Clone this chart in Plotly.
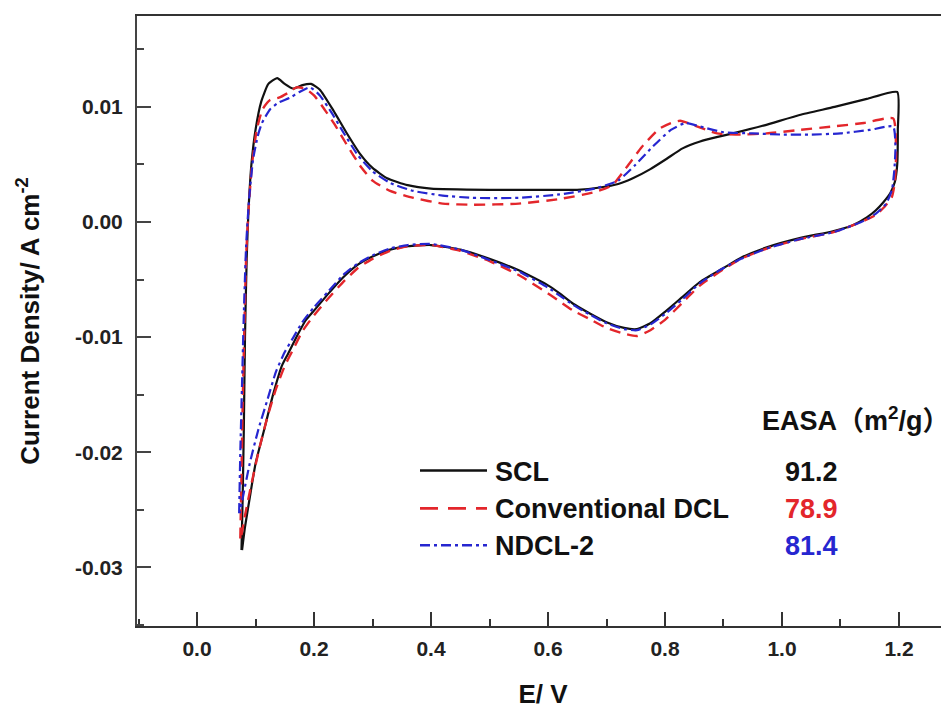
import plotly.graph_objects as go

# ---------------- data ----------------
series_names = ["SCL", "Conventional DCL", "NDCL-2"]
easa_values = ["91.2", "78.9", "81.4"]

scl_E = [0.076, 0.078, 0.080, 0.082, 0.085, 0.088, 0.093, 0.100, 0.110, 0.122, 0.137, 0.150, 0.164, 0.180,
         0.195, 0.210, 0.233, 0.255, 0.279, 0.300, 0.325, 0.36, 0.40, 0.50, 0.60, 0.65, 0.689, 0.72, 0.745,
         0.775, 0.803, 0.83, 0.86, 0.89, 0.916, 0.97, 1.03, 1.09, 1.145, 1.197,
         1.198, 1.197, 1.193, 1.185, 1.173, 1.16, 1.145, 1.12, 1.087, 1.03, 0.974, 0.93, 0.90, 0.86, 0.83,
         0.80, 0.775, 0.752, 0.73, 0.70, 0.67, 0.643, 0.62, 0.60, 0.55, 0.50, 0.45, 0.40, 0.36, 0.33, 0.30,
         0.275, 0.25, 0.225, 0.20, 0.185, 0.17, 0.155, 0.145, 0.13, 0.115, 0.10, 0.09, 0.082, 0.077]
scl_j = [-0.0285, -0.024, -0.018, -0.010, -0.003, 0.001, 0.005, 0.008, 0.0105, 0.0120, 0.0125, 0.0120, 0.0116,
         0.0119, 0.0120, 0.0115, 0.0097, 0.0078, 0.0059, 0.0047, 0.0038, 0.0032, 0.0029, 0.0028, 0.0028, 0.0028,
         0.0030, 0.0033, 0.0038, 0.0046, 0.0055, 0.0064, 0.0070, 0.0074, 0.0077, 0.0084, 0.0093, 0.0100, 0.0107,
         0.0113,
         0.0080, 0.0050, 0.0035, 0.0025, 0.0017, 0.0010, 0.0004, -0.0003, -0.0008, -0.0014, -0.0022, -0.0031,
         -0.0040, -0.0052, -0.0065, -0.0078, -0.0088, -0.0093, -0.0092, -0.0087, -0.0079, -0.0071, -0.0062,
         -0.0055, -0.0042, -0.0032, -0.0024, -0.0020, -0.0021, -0.0024, -0.0030, -0.0037, -0.0048, -0.0062,
         -0.0077, -0.0086, -0.0100, -0.0115, -0.0125, -0.0150, -0.0180, -0.0210, -0.0240, -0.0265, -0.0285]

dcl_E = [0.074, 0.076, 0.078, 0.081, 0.084, 0.088, 0.094, 0.102, 0.112, 0.125, 0.140, 0.155, 0.170, 0.185,
         0.20, 0.215, 0.235, 0.255, 0.28, 0.30, 0.33, 0.37, 0.42, 0.47, 0.55, 0.62, 0.68, 0.71, 0.735, 0.76,
         0.79, 0.81, 0.826, 0.85, 0.889, 0.93, 0.974, 1.03, 1.087, 1.14, 1.19,
         1.195, 1.193, 1.188, 1.175, 1.16, 1.14, 1.11, 1.087, 1.03, 0.974, 0.93, 0.90, 0.86, 0.83, 0.80, 0.775,
         0.752, 0.73, 0.70, 0.67, 0.643, 0.62, 0.60, 0.55, 0.50, 0.45, 0.40, 0.36, 0.33, 0.30, 0.275, 0.25,
         0.225, 0.20, 0.18, 0.165, 0.15, 0.135, 0.12, 0.105, 0.092, 0.082, 0.075]
dcl_j = [-0.0275, -0.022, -0.016, -0.009, -0.003, 0.001, 0.005, 0.0080, 0.0098, 0.0106, 0.0108, 0.0112, 0.0117,
         0.0116, 0.0110, 0.0100, 0.0085, 0.0068, 0.0048, 0.0036, 0.0027, 0.0021, 0.0016, 0.0015, 0.0016, 0.0020,
         0.0026, 0.0032, 0.0048, 0.0065, 0.0081, 0.0086, 0.0088, 0.0084, 0.0077, 0.0076, 0.0077, 0.0080, 0.0083,
         0.0086, 0.0090,
         0.0060, 0.0035, 0.0022, 0.0013, 0.0006, 0.0001, -0.0005, -0.0009, -0.0015, -0.0023, -0.0032, -0.0041,
         -0.0055, -0.0070, -0.0085, -0.0094, -0.0099, -0.0097, -0.0092, -0.0084, -0.0077, -0.0069, -0.0062,
         -0.0046, -0.0034, -0.0025, -0.0020, -0.0021, -0.0025, -0.0032, -0.0040, -0.0052, -0.0066, -0.0081,
         -0.0095, -0.0110, -0.0125, -0.0145, -0.0170, -0.0200, -0.0230, -0.0255, -0.0275]

ndcl_E = [0.072, 0.074, 0.077, 0.080, 0.084, 0.089, 0.096, 0.104, 0.111, 0.125, 0.140, 0.159, 0.175, 0.193,
          0.21, 0.23, 0.25, 0.275, 0.30, 0.33, 0.37, 0.42, 0.47, 0.55, 0.62, 0.68, 0.72, 0.75, 0.78, 0.81, 0.835,
          0.86, 0.90, 0.95, 1.0, 1.05, 1.10, 1.15, 1.19,
          1.194, 1.192, 1.188, 1.178, 1.16, 1.14, 1.11, 1.087, 1.03, 0.974, 0.93, 0.90, 0.86, 0.83, 0.80, 0.775,
          0.752, 0.73, 0.70, 0.67, 0.643, 0.62, 0.60, 0.55, 0.50, 0.45, 0.40, 0.36, 0.33, 0.30, 0.275, 0.25,
          0.225, 0.20, 0.18, 0.165, 0.15, 0.135, 0.12, 0.105, 0.09, 0.08, 0.073]
ndcl_j = [-0.0253, -0.020, -0.014, -0.008, -0.002, 0.002, 0.0055, 0.0075, 0.0086, 0.0098, 0.0104, 0.0108, 0.0113,
          0.0117, 0.0110, 0.0095, 0.0078, 0.0058, 0.0044, 0.0034, 0.0027, 0.0023, 0.0021, 0.0021, 0.0024, 0.0029,
          0.0036, 0.0050, 0.0066, 0.0080, 0.0086, 0.0083, 0.0078, 0.0077, 0.0076, 0.0076, 0.0077, 0.0080, 0.0083,
          0.0065, 0.0045, 0.0028, 0.0016, 0.0007, 0.0001, -0.0005, -0.0009, -0.0015, -0.0023, -0.0032, -0.0040,
          -0.0053, -0.0067, -0.0080, -0.0089, -0.0094, -0.0093, -0.0088, -0.0080, -0.0072, -0.0064, -0.0057,
          -0.0043, -0.0033, -0.0024, -0.0019, -0.0020, -0.0023, -0.0029, -0.0036, -0.0046, -0.0060, -0.0074,
          -0.0087, -0.0100, -0.0113, -0.0130, -0.0155, -0.0180, -0.0210, -0.0235, -0.0253]

x_tickvals = [0.0, 0.2, 0.4, 0.6, 0.8, 1.0, 1.2]
x_ticktext = ["0.0", "0.2", "0.4", "0.6", "0.8", "1.0", "1.2"]
x_minor = [-0.1, 0.1, 0.3, 0.5, 0.7, 0.9, 1.1]
y_tickvals = [0.01, 0.00, -0.01, -0.02, -0.03]
y_ticktext = ["0.01", "0.00", "-0.01", "-0.02", "-0.03"]
y_minor = [0.015, 0.005, -0.005, -0.015, -0.025, -0.035]

# ---------------- styles ----------------
colors = ["#111111", "#e3262b", "#2626d0"]
dashes = ["solid", "11px,7px", "10px,4px,3px,4px"]
legend_dashes = ["solid", "18px,10px", "10px,4px,3px,4px"]
widths = [2.2, 2.4, 2.2]
FONT = "Liberation Sans, Arial, sans-serif"

fig = go.Figure()
for name, E, j, c, d, w in zip(series_names, [scl_E, dcl_E, ndcl_E], [scl_j, dcl_j, ndcl_j],
                               colors, dashes, widths):
    fig.add_trace(go.Scatter(x=E, y=j, mode="lines", name=name, showlegend=False,
                             line=dict(color=c, dash=d, width=w, shape="spline", smoothing=0.5)))

# page body has an 8px margin: plot box in window pixels is (137..949, 14..626)
OFF = 8
L, R, T, B = 137, 949, 14, 626
W, H = R - L, B - T
def px(xp):
    return (xp - L) / W
def py(yp):
    return (B - yp) / H

rows = [470, 508, 545]
shapes = []
annotations = []
for i, name in enumerate(series_names):
    shapes.append(dict(type="line", xref="paper", yref="paper", x0=px(420), x1=px(487),
                       y0=py(rows[i]), y1=py(rows[i]),
                       line=dict(color=colors[i], width=2.6, dash=legend_dashes[i])))
    annotations.append(dict(xref="paper", yref="paper", x=px(493), y=py(rows[i] + 1), xanchor="left",
                            yanchor="middle", text=name, showarrow=False,
                            font=dict(family=FONT, size=27, color="#111111", weight="bold")))
    annotations.append(dict(xref="paper", yref="paper", x=px(811), y=py(rows[i] + 1), xanchor="center",
                            yanchor="middle", text=easa_values[i], showarrow=False,
                            font=dict(family=FONT, size=27, color=colors[i], weight="bold")))
annotations.append(dict(xref="paper", yref="paper", x=px(760), y=py(418), xanchor="left", yanchor="middle",
                        text="EASA（m<sup>2</sup>/g）", showarrow=False,
                        font=dict(family=FONT + ", Noto Sans CJK SC", size=27, color="#111111", weight="bold")))

fig.update_layout(
    width=949, height=705,
    margin=dict(l=L - OFF, r=949 - R + OFF, t=T - OFF, b=705 - B + OFF),
    paper_bgcolor="white", plot_bgcolor="white",
    shapes=shapes, annotations=annotations,
    font=dict(family=FONT, color="#111111"),
)
fig.update_xaxes(
    range=[-0.1026, 1.2855], showgrid=False, zeroline=False,
    showline=True, linecolor="#333333", linewidth=2, mirror=True,
    ticks="inside", ticklen=14, tickwidth=2, tickcolor="#333333",
    tickvals=x_tickvals, ticktext=x_ticktext, ticklabelstandoff=3,
    tickfont=dict(family=FONT, size=21, color="#222222", weight="bold"),
    minor=dict(tickvals=x_minor, ticks="inside", ticklen=7, tickwidth=2, tickcolor="#333333"),
    title=dict(text="E/ V", standoff=26, font=dict(family=FONT, size=26, color="#111111", weight="bold")),
)
fig.update_yaxes(
    range=[-0.0351, 0.0179], showgrid=False, zeroline=False,
    showline=True, linecolor="#444444", linewidth=2,
    ticks="inside", ticklen=14, tickwidth=2, tickcolor="#444444",
    tickvals=y_tickvals, ticktext=y_ticktext, ticklabelstandoff=8,
    tickfont=dict(family=FONT, size=21, color="#222222", weight="bold"),
    minor=dict(tickvals=y_minor, ticks="inside", ticklen=7, tickwidth=2, tickcolor="#444444"),
    title=dict(text="Current Density/ A cm<sup>-2</sup>", standoff=28,
               font=dict(family=FONT, size=26, color="#111111", weight="bold")),
)

fig.write_html("out.html")
